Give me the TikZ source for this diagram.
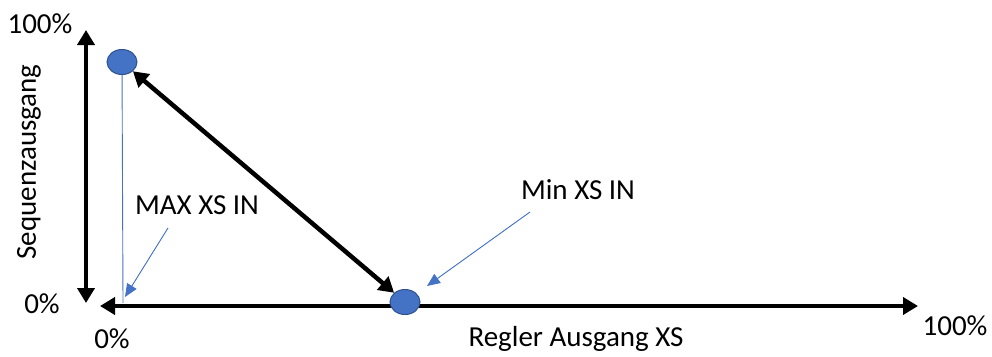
\documentclass[tikz,border=0pt]{standalone}
\usepackage{fontspec}
\setmainfont{Carlito}
\usetikzlibrary{arrows.meta,shapes.geometric,backgrounds}
\definecolor{pointblue}{HTML}{4472C4}
\definecolor{pointedge}{HTML}{2F528F}

\begin{document}
\begin{tikzpicture}[x=1pt, y=-1pt, font=\fontsize{29}{34}\selectfont,
  axis/.style={{Triangle[length=15pt, width=17pt]}-{Triangle[length=15pt, width=17pt]}, line width=4.5pt},
  point/.style={ellipse, draw=pointedge, line width=1pt, fill=pointblue, minimum width=30pt, minimum height=25pt, inner sep=0pt},
  hint/.style={-{Triangle[length=13pt, width=11pt]}, draw=pointblue, fill=pointblue, line width=0.9pt},
  label/.style={align=center, inner sep=0pt},
]
\useasboundingbox (0,0) rectangle (992,356);
\node[point] (maxin) at (122, 62) {};
\node[point] (minin) at (405, 302) {};
\coordinate (ytop) at (86, 30);
\coordinate (ybot) at (86, 303);
\coordinate (xleft) at (100, 306);
\coordinate (xright) at (918, 306);
\coordinate (maxfoot) at (123, 303);

% axes go behind the points
\begin{scope}[on background layer]
\draw[axis] (ybot) -- (ytop);
\draw[axis] (xleft) -- (xright);
\end{scope}
\draw[axis] (minin) -- (maxin);
\draw[draw=pointblue, line width=0.9pt] (maxin) -- (maxfoot);

\node[label] (ymax) at (40, 24) {100\%};
\node[label] (ymin) at (42, 304) {0\%};
\node[label] (xmin) at (112, 339) {0\%};
\node[label] (xmax) at (955, 326) {100\%};
\node[label, rotate=90] (ytitle) at (29, 162) {Sequenzausgang};
\node[label] (xtitle) at (576, 339) {Regler Ausgang XS};
\node[label] (maxtext) at (197, 205) {MAX XS IN};
\node[label] (mintext) at (578, 190) {Min XS IN};

% pointers to the two points
\coordinate (maxtail) at (168, 228);
\coordinate (maxtip) at (125, 297);
\coordinate (mintail) at (530, 212);
\coordinate (mintip) at (427, 286);
\draw[hint] (maxtail) -- (maxtip);
\draw[hint] (mintail) -- (mintip);
\end{tikzpicture}
\end{document}
